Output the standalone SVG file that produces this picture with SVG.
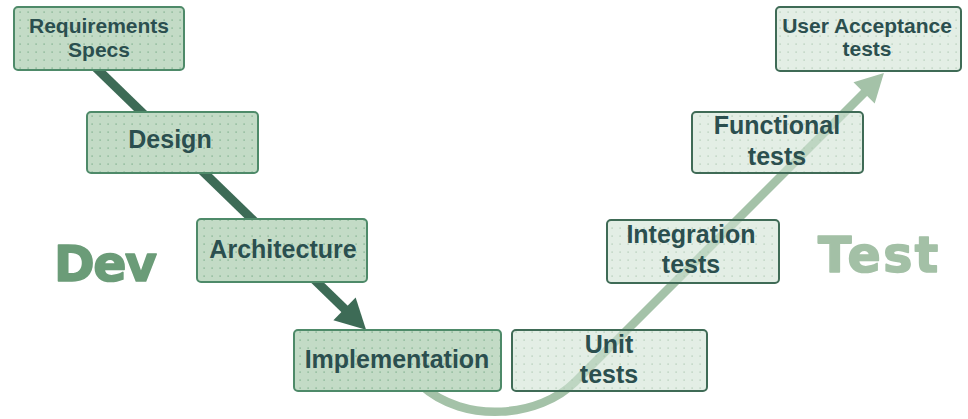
<svg xmlns="http://www.w3.org/2000/svg" width="968" height="419" viewBox="0 0 968 419">
  <style>
    .dev rect.box { fill: url(#devDots); stroke: #4e8a69; stroke-width: 2; }
    .test rect.bg { fill: #d0e3d4; fill-opacity: 0.6; }
    .test rect.box { fill: url(#testDots); stroke: #3f6b56; stroke-width: 2; }
    .lbl { font-family: "Liberation Sans", Arial, sans-serif; font-weight: bold; font-size: 25px; fill: #2b4f4f; text-anchor: middle; }
    .lbl.small { font-size: 21px; }
    .phase { font-family: "DejaVu Sans", Verdana, sans-serif; font-weight: bold; font-size: 49px; stroke-width: 1.6; stroke-linejoin: round; }
  </style>
  <defs>
    <pattern id="devDots" width="8" height="8" patternUnits="userSpaceOnUse">
      <rect width="8" height="8" fill="#c3dbc6"/>
      <rect x="3.5" y="3.5" width="1.2" height="1.2" fill="#74a884"/>
    </pattern>
    <pattern id="testDots" width="8" height="8" patternUnits="userSpaceOnUse">
      <rect x="3.5" y="3.5" width="1.2" height="1.2" fill="#a9c6ae"/>
    </pattern>
    <!-- arrowheads: the path ends 14px short of the tip so the shaft stays hidden -->
    <marker id="headDev" markerUnits="userSpaceOnUse" markerWidth="34" markerHeight="34" refX="16" refY="16" orient="auto" overflow="visible">
      <path d="M0,0 L30,16 L0,32 Z" fill="#3d6b56"/>
    </marker>
    <marker id="headTest" markerUnits="userSpaceOnUse" markerWidth="34" markerHeight="34" refX="14" refY="16" orient="auto" overflow="visible">
      <path d="M0,1 L28,16 L0,31 Z" fill="#a4c2a8"/>
    </marker>
  </defs>

  <rect width="968" height="419" fill="#ffffff"/>

  <!-- connectors -->
  <g id="connectors">
    <path id="dev-flow" d="M90,62 L356,320" stroke="#3d6b56" stroke-width="9" fill="none" marker-end="url(#headDev)"/>
    <path id="test-flow" d="M421,385 C465,425 540,417 575,382 L874,83" stroke="#a4c2a8" stroke-width="8.5" fill="none" marker-end="url(#headTest)"/>
  </g>

  <!-- development side -->
  <g id="requirements" class="dev">
    <rect class="box" x="14" y="7" width="170" height="63" rx="4"/>
    <text class="lbl small" x="99" y="33">Requirements</text>
    <text class="lbl small" x="99" y="57">Specs</text>
  </g>
  <g id="design" class="dev">
    <rect class="box" x="87" y="112" width="171" height="61" rx="4"/>
    <text class="lbl" x="170" y="148">Design</text>
  </g>
  <g id="architecture" class="dev">
    <rect class="box" x="197" y="219" width="170" height="63" rx="4"/>
    <text class="lbl" x="283" y="258">Architecture</text>
  </g>
  <g id="implementation" class="dev">
    <rect class="box" x="294" y="330" width="207" height="61" rx="4"/>
    <text class="lbl" x="397" y="368">Implementation</text>
  </g>

  <!-- testing side -->
  <g id="unit-tests" class="test">
    <rect class="bg" x="512" y="330" width="195" height="61" rx="4"/>
    <rect class="box" x="512" y="330" width="195" height="61" rx="4"/>
    <text class="lbl" x="609" y="353">Unit</text>
    <text class="lbl" x="609" y="383">tests</text>
  </g>
  <g id="integration-tests" class="test">
    <rect class="bg" x="607" y="220" width="172" height="63" rx="4"/>
    <rect class="box" x="607" y="220" width="172" height="63" rx="4"/>
    <text class="lbl" x="691" y="243">Integration</text>
    <text class="lbl" x="691" y="273">tests</text>
  </g>
  <g id="functional-tests" class="test">
    <rect class="bg" x="692" y="112" width="171" height="61" rx="4"/>
    <rect class="box" x="692" y="112" width="171" height="61" rx="4"/>
    <text class="lbl" x="777" y="134">Functional</text>
    <text class="lbl" x="777" y="165">tests</text>
  </g>
  <g id="user-acceptance-tests" class="test">
    <rect class="bg" x="776" y="7" width="185" height="64" rx="4"/>
    <rect class="box" x="776" y="7" width="185" height="64" rx="4"/>
    <text class="lbl small" x="867" y="33">User Acceptance</text>
    <text class="lbl small" x="867" y="56">tests</text>
  </g>

  <!-- phase labels -->
  <text id="dev-label" class="phase" x="54" y="281" fill="#6b9c78" stroke="#6b9c78" letter-spacing="-1.5">Dev</text>
  <text id="test-label" class="phase" x="818" y="272" fill="#a3c0a6" stroke="#a3c0a6" letter-spacing="2.5">Test</text>
</svg>
